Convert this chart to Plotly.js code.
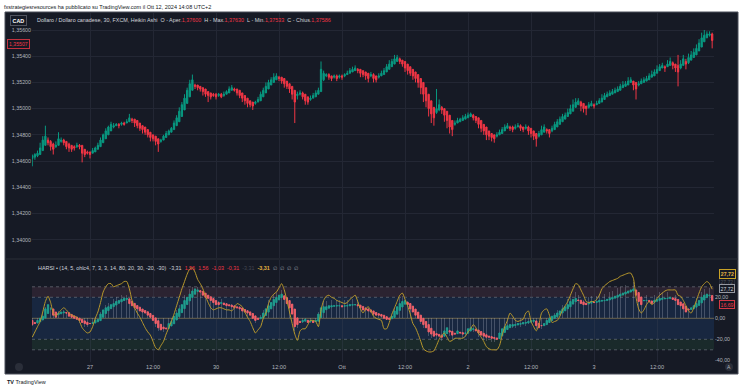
<!DOCTYPE html>
<html><head><meta charset="utf-8">
<script src="https://cdn.plot.ly/plotly-3.0.1.min.js"></script>
<style>html,body{margin:0;padding:0;background:#fff;}#chart{width:743px;height:390px;}</style>
</head><body><div id="chart"></div>
<script>
// ---- price pane (Heikin Ashi, in pips above BASE) ----
const BASE = 1.34;
const haOpen = [62,63,64,65,68,72,76,75,73,71,
 72,75,76,75,73,72,71,71,72,72,
 69,67,67,66,67,69,71,74,77,80,
 83,86,87,88,88,89,89,90,92,92,
 91,89,87,86,84,82,80,79,77,75,
 76,78,80,82,84,87,90,94,99,104,
 109,114,118,118,117,116,115,113,112,111,
 111,110,111,110,111,112,114,115,115,114,
 112,110,108,106,105,104,105,106,109,112,
 115,118,120,122,124,124,123,121,119,117,
 114,110,111,112,111,109,107,108,109,111,
 113,122,125,126,125,124,125,124,125,125,
 126,127,128,129,130,130,129,128,127,125,
 126,125,124,125,126,128,130,132,134,136,
 138,137,136,134,132,130,128,126,123,120,
 116,111,106,101,97,99,101,100,98,95,
 91,88,89,90,91,92,93,94,95,94,
 93,91,88,86,83,81,80,79,80,81,
 83,85,86,86,85,86,87,86,85,86,
 85,83,81,79,80,82,84,84,83,84,
 86,88,90,92,94,96,98,101,103,105,
 104,102,101,102,103,103,104,105,107,109,
 110,111,112,113,114,116,117,118,120,121,
 120,118,119,120,121,122,124,125,127,129,
 131,132,132,133,135,134,133,131,133,136,
 135,137,139,141,144,147,151,154,156,157];
const haClose = [64,65,66,70,76,79,74,71,69,72,
 77,76,74,71,70,69,70,72,71,66,
 65,66,65,68,70,72,76,80,83,86,
 88,87,88,87,89,88,90,93,91,89,
 87,85,84,82,80,78,77,75,73,76,
 79,81,83,85,89,93,98,103,108,114,
 119,122,117,116,115,113,111,110,109,110,
 109,111,109,111,113,115,116,114,112,110,
 108,106,104,103,102,105,107,111,114,117,
 120,122,124,125,123,121,119,117,115,111,
 105,111,112,109,106,105,108,110,112,114,
 130,127,126,124,123,125,123,125,124,126,
 127,129,130,131,129,127,126,125,123,126,
 123,122,125,127,129,132,134,136,138,139,
 136,134,131,129,127,125,123,120,116,111,
 106,100,96,93,100,103,99,95,91,86,
 84,89,91,92,93,94,95,96,93,91,
 88,85,83,80,79,78,77,80,82,84,
 86,87,85,84,86,87,85,84,86,83,
 81,79,77,81,84,86,83,81,85,88,
 90,92,94,95,97,100,103,105,106,102,
 100,100,103,104,102,104,106,108,110,111,
 112,113,114,115,117,118,119,121,122,118,
 115,119,121,122,123,125,126,128,130,132,
 133,131,134,136,133,131,128,134,138,134,
 139,141,143,146,150,154,156,157,157,152];
const upperWick = [1,1,2,4,3,8,2,1,1,3, 5,2,1,0,1,0,1,2,1,0, 0,1,0,2,1,2,2,1,2,1,
 2,2,1,1,1,1,2,3,1,0, 0,0,0,0,0,0,0,0,0,1, 1,2,1,1,2,2,3,2,3,2,
 3,4,1,0,0,0,0,0,0,1, 1,1,1,2,1,2,2,1,0,0, 0,0,0,0,0,1,2,2,2,3,
 2,2,3,2,1,0,0,0,0,0, 0,2,2,1,0,0,2,2,2,2, 6,2,1,1,0,1,1,1,1,1,
 2,2,2,2,1,0,0,0,0,2, 1,0,2,2,2,2,3,2,3,2, 1,0,0,0,0,0,0,0,0,0,
 0,0,0,0,15,4,1,0,0,0, 0,2,2,1,2,2,2,1,1,0, 0,0,0,0,0,0,0,2,2,2,
 2,2,1,1,2,2,1,0,2,1, 0,0,0,2,3,2,1,0,2,2, 2,2,2,2,3,3,4,3,2,1,
 0,0,2,2,1,2,2,3,2,2, 2,2,2,2,2,3,2,3,2,0, 0,2,2,2,2,2,3,2,3,2,
 2,1,3,3,1,0,8,3,3,2, 3,3,3,3,3,4,4,2,2,1];
const lowerWick = [6,2,1,0,0,0,2,3,4,1, 0,1,2,2,3,2,2,1,2,7, 2,1,3,0,0,0,0,0,0,0,
 0,1,0,2,1,1,0,0,2,3, 2,2,3,2,2,3,2,3,6,1, 0,0,0,0,0,0,0,0,0,0,
 0,0,2,2,2,3,2,5,2,1, 2,1,1,1,0,0,0,1,2,2, 3,3,3,2,3,1,0,0,0,0,
 0,0,0,0,2,2,3,2,3,4, 16,3,1,2,3,2,1,0,0,0, 0,1,1,2,2,1,2,1,2,1,
 0,0,0,0,2,3,2,3,3,1, 3,2,1,0,0,0,0,0,0,0, 2,2,3,3,2,3,3,4,5,6,
 5,6,7,6,1,1,3,5,6,5, 5,1,0,0,0,0,0,0,2,2, 3,3,3,4,3,3,3,1,0,0,
 0,0,2,2,1,0,2,2,1,3, 3,3,6,1,0,0,2,3,1,0, 0,0,0,0,0,0,0,0,0,4,
 3,5,1,0,2,0,0,0,0,0, 0,0,0,0,0,0,0,0,0,4, 8,1,0,0,0,0,0,0,0,0,
 0,3,0,0,3,3,11,1,0,4, 1,0,0,0,0,0,0,0,1,6];

// ---- HARSI pane ----
const rsiOpen = [-2,-4,-4.5,-3.3,-1.6,0.2,4.6,8.8,8.9,6,
 3.5,4.3,5.2,5.6,5.3,3.7,2.3,1.2,0.1,-1,
 -2.5,-3.8,-4.9,-5,-4.5,-3.3,-2.2,0.9,4.5,7.3,
 9.2,11.1,12.6,14.3,15.7,16.9,18,18.5,16.3,14.2,
 12.1,10.6,8.8,7.4,6.2,4.6,2.8,0.4,-2.3,-5.7,
 -8.4,-9.2,-9.6,-7.3,-5.2,-1.6,1.7,5.4,9.2,13.1,
 16.6,19.8,22.9,25.5,26.3,25.7,23.9,22,20.5,18.8,
 16.9,15,14,14.5,13.8,12.9,12.5,11.8,10.9,10.5,
 9.8,8.4,7.2,6.1,4.6,2.3,0.2,-0.4,0.3,2.7,
 5.9,9,12,15,17.5,19.8,21.4,19.7,16.9,13.5,
 8.8,0.4,-2.8,-3.4,-2.7,-1.9,-3,-2.5,-3.3,-2.7,
 0.7,5.4,8.2,9.6,10.8,11.4,11.7,11.9,12,11.5,
 11.8,11.9,12.5,12.8,12.9,12.5,11.3,9.7,8.9,8,
 7,5.5,4.3,3.7,2.9,1.5,0.3,-0.4,0.8,3.9,
 7.5,10.8,13.4,15.2,14.1,11.6,8.8,5.9,3,0,
 -3,-6,-9.5,-12.3,-14.6,-15.3,-16.2,-17.1,-14.6,-11.8,
 -12.4,-14.2,-14.6,-13.3,-13.7,-14.4,-14.2,-12.1,-10.6,-10.3,
 -11.2,-12.6,-14.3,-15.7,-16.9,-17.5,-18.3,-18.7,-19.4,-16.7,
 -13.4,-10.7,-8.9,-7.5,-6.8,-6.4,-5.7,-5.4,-4.7,-4.4,
 -3.7,-2.9,-2.5,-4.8,-6.9,-7,-6,-4,-2,0,
 1.5,3.3,5.2,7.1,9.1,11,13.5,15.8,17.4,17.2,
 15.6,14.3,13.7,14.4,15.2,15.1,15.6,16.3,16.7,16.9,
 17.5,18.3,19.2,20.1,21.1,22.1,23.1,24,25,26,
 27,24.5,20.3,16.7,16.9,17,16.5,15.3,16.2,17.1,
 18,18.5,18.8,18.9,19.5,18.8,17.9,15.5,13.8,11.4,
 8.7,8.4,9.2,10.6,12.3,14.7,17.4,19.7,21.4,21.7];
const rsiClose = [-6,-5,-2,0,2,9,13,9,3,1,
 5,6,6,5,2,1,0,-1,-2,-4,
 -5,-6,-5,-4,-2,-1,4,8,10,11,
 13,14,16,17,18,19,19,14,12,10,
 9,7,6,5,3,1,-2,-5,-9,-11,
 -10,-10,-5,-3,2,5,9,13,17,20,
 23,26,28,27,25,22,20,19,17,15,
 13,13,15,13,12,12,11,10,10,9,
 7,6,5,3,0,-2,-1,1,5,9,
 12,15,18,20,22,23,18,14,10,4,
 -8,-6,-4,-2,-1,-4,-2,-4,-2,4,
 10,11,11,12,12,12,12,12,11,12,
 12,13,13,13,12,10,8,8,7,6,
 4,3,3,2,0,-1,-1,2,7,11,
 14,16,17,13,9,6,3,0,-3,-6,
 -9,-13,-15,-17,-16,-17,-18,-12,-9,-13,
 -16,-15,-12,-14,-15,-14,-10,-9,-10,-12,
 -14,-16,-17,-18,-18,-19,-19,-20,-14,-10,
 -8,-7,-6,-6,-6,-5,-5,-4,-4,-3,
 -2,-2,-7,-9,-7,-5,-2,0,2,3,
 5,7,9,11,13,16,18,19,17,14,
 13,13,15,16,15,16,17,17,17,18,
 19,20,21,22,23,24,25,26,27,28,
 22,16,13,17,17,16,14,17,18,19,
 19,19,19,20,18,17,13,12,9,6,
 8,10,12,14,17,20,22,23,22,16.69];
const rsiHist = [-7,-6,-3,2,4,11,15,11,5,3,
 7,8,8,6,3,2,1,-2,-4,-6,
 -8,-8,-7,-5,-3,-2,6,11,13,15,
 17,18,20,21,22,22,22,17,14,12,
 11,9,8,7,5,2,-4,-8,-12,-14,
 -13,-12,-6,-3,4,8,13,17,22,26,
 28,30,31,30,27,24,22,21,19,18,
 16,16,18,16,15,15,14,13,13,12,
 10,9,8,5,1,-4,-2,3,8,13,
 17,20,23,25,27,27,21,17,12,6,
 -12,-9,-6,-4,-3,-7,-4,-6,-3,6,
 15,16,16,17,17,17,17,17,16,17,
 17,18,18,18,16,13,11,11,10,9,
 6,5,5,4,1,-2,-2,4,10,15,
 19,21,22,16,12,8,4,-1,-5,-9,
 -13,-17,-19,-21,-20,-21,-22,-15,-12,-17,
 -20,-19,-15,-18,-19,-18,-13,-12,-13,-15,
 -18,-20,-21,-22,-22,-23,-23,-24,-17,-13,
 -11,-10,-9,-9,-9,-8,-8,-7,-7,-5,
 -4,-4,-10,-12,-10,-7,-3,1,4,5,
 8,10,13,15,18,21,24,25,22,18,
 17,17,20,21,20,21,22,23,23,24,
 25,26,27,29,30,31,32,33,34,35,
 28,20,16,22,22,20,18,22,24,25,
 25,25,25,26,23,22,17,15,12,8,
 10,13,16,19,22,25,28,30,29,22];
const stochLine = [-18,-13,-8,-3,6,16,21,15,5,2,
 5,8,10,8,5,3,2,1,-3,-9,
 -12,-14,-13,-8,0,6,15,25,30,33,
 33,30,31,32,33,35,35,28,17,10,
 5,1,-4,-9,-13,-16,-22,-28,-30,-26,
 -22,-15,-9,-3,4,12,20,28,35,42,
 47,48,44,37,33,28,21,15,10,8,
 9,10,10,9,8,8,7,10,14,13,
 11,6,1,-3,-9,-14,-11,-8,0,5,
 14,20,23,25,29,33,27,17,6,-5,
 -15,-21,-12,-10,-10,-6,-2,-2,-3,-8,
 8,17,21,22,20,19,17,16,15,14,
 15,18,20,22,16,9,5,9,11,7,
 2,0,-1,-2,-10,-10,-4,4,10,16,
 22,24,18,12,4,-5,-9,-15,-22,-29,
 -31,-32,-32,-31,-26,-20,-16,-14,-18,-22,
 -21,-19,-19,-19,-19,-17,-13,-10,-6,-9,
 -14,-18,-22,-27,-29,-30,-30,-30,-26,-16,
 -8,-2,5,2,-2,-3,-2,-1,5,7,
 -3,-8,-12,-6,5,8,9,3,-4,-3,
 -2,2,8,12,16,22,28,33,32,27,
 22,16,15,16,16,18,22,28,31,33,
 35,36,37,38,40,41,42,43,43,38,
 20,9,5,8,13,16,13,15,19,22,
 24,26,27,27,27,27,22,21,17,12,
 7,5,10,17,24,30,33,35,33,27.72];

// ---- axis labels ----
const timeTickIdx = [22,46,70,94,118,142,166,190,214,238];
const timeTickText = ['27','12:00','30','12:00','Ott','12:00','2','12:00','3','12:00'];
const priceTicks = [1.340,1.342,1.344,1.346,1.348,1.350,1.352,1.354,1.356];
const priceTickText = ['1,34000','1,34200','1,34400','1,34600','1,34800','1,35000','1,35200','1,35400','1,35600'];
const rsiTicks = [-40,-20,0,20];
const rsiTickText = ['-40,00','-20,00','0,00','20,00'];

// ---- build ----
const W = 743, H = 390;
const PX = x => x / W, PY = y => 1 - y / H;
const idx = haOpen.map((_, i) => i);
const toPrice = v => BASE + v / 10000;
const mOpen = haOpen.map(toPrice), mClose = haClose.map(toPrice);
const mHigh = haOpen.map((o, i) => toPrice(Math.max(o, haClose[i]) + upperWick[i]));
const mLow = haOpen.map((o, i) => toPrice(Math.min(o, haClose[i]) - lowerWick[i]));
const rHigh = rsiOpen.map((o, i) => Math.max(o, rsiClose[i]));
const rLow = rsiOpen.map((o, i) => Math.min(o, rsiClose[i]));

const UP = '#089981', DN = '#f23645';
const traces = [
  {type:'candlestick', x:idx, open:mOpen, high:mHigh, low:mLow, close:mClose, xaxis:'x', yaxis:'y',
   increasing:{line:{color:UP,width:1}, fillcolor:UP}, decreasing:{line:{color:DN,width:1}, fillcolor:DN},
   whiskerwidth:0, hoverinfo:'skip'},
  {type:'bar', x:idx, y:rsiHist, xaxis:'x2', yaxis:'y2', width:0.22,
   marker:{color:'rgba(175,180,195,0.3)', line:{width:0}}, hoverinfo:'skip'},
  {type:'candlestick', x:idx, open:rsiOpen, high:rHigh, low:rLow, close:rsiClose, xaxis:'x2', yaxis:'y2',
   increasing:{line:{color:'#1f9e8e',width:1}, fillcolor:'#1f9e8e'}, decreasing:{line:{color:'#f0606a',width:1}, fillcolor:'#f0606a'},
   whiskerwidth:0, hoverinfo:'skip'},
  {type:'scatter', mode:'lines', x:idx, y:stochLine, xaxis:'x2', yaxis:'y2',
   line:{color:'#b8982c', width:1, shape:'spline', smoothing:0.6}, hoverinfo:'skip'}
];

const FONT = 'Liberation Sans, Arial, sans-serif';
const xdom = [32 / W, 714 / W];
const xr = [-0.1, 259.7];
const GRID = '#232734';

const shapes = [
  {type:'rect', xref:'paper', yref:'paper', x0:PX(5), x1:PX(738), y0:PY(374), y1:PY(12),
   fillcolor:'#161a25', line:{color:'#4a4e5a', width:1}, layer:'below'},
  {type:'rect', xref:'x2 domain', yref:'y2', x0:0, x1:1, y0:20, y1:30, fillcolor:'#2b2331', line:{width:0}, layer:'below'},
  {type:'rect', xref:'x2 domain', yref:'y2', x0:0, x1:1, y0:-20, y1:20, fillcolor:'#182740', line:{width:0}, layer:'below'},
  {type:'rect', xref:'x2 domain', yref:'y2', x0:0, x1:1, y0:-30, y1:-20, fillcolor:'#1a2a2b', line:{width:0}, layer:'below'},
  {type:'line', xref:'paper', yref:'paper', x0:PX(5), x1:PX(738), y0:PY(259), y1:PY(259), line:{color:'#2a2e39', width:1}}
];
[30, 20, -20, -30].forEach(v => shapes.push({type:'line', xref:'x2 domain', yref:'y2', x0:0, x1:1, y0:v, y1:v,
  line:{color:'rgba(130,134,146,0.55)', width:1, dash:'3px,3px'}, layer:'below'}));
shapes.push({type:'line', xref:'x2 domain', yref:'y2', x0:0, x1:1, y0:0, y1:0,
  line:{color:'rgba(190,160,90,0.5)', width:1}, layer:'below'});
shapes.push({type:'circle', xref:'paper', yref:'paper', x0:PX(15), x1:PX(23), y0:PY(371), y1:PY(363),
  fillcolor:'#2a2e39', line:{width:0}});
shapes.push({type:'circle', xref:'paper', yref:'paper', x0:PX(725), x1:PX(733), y0:PY(371), y1:PY(363),
  fillcolor:'#2a2e39', line:{width:0}});

const red = s => '<span style="color:#f23645">' + s + '</span>';
const ann = (x, y, text, o = {}) => Object.assign({xref:'paper', yref:'paper', x:PX(x), y:PY(y), text,
  showarrow:false, xanchor:'left', yanchor:'middle', font:{family:FONT, size:5.4, color:'#d1d4dc'}}, o);
const S = '\u00a0\u00a0';
const annotations = [
  ann(2, 7, 'fxstrategiesresources ha pubblicato su TradingView.com il Ott 12, 2024 14:08 UTC+2', {font:{family:FONT, size:5.5, color:'#131722'}}),
  ann(18, 20, '<b>CAD</b>', {xanchor:'center', bgcolor:'#161a25', bordercolor:'#50535e', borderwidth:1, borderpad:1.5, font:{family:FONT, size:5.4, color:'#ffffff'}}),
  ann(35, 20, 'Dollaro / Dollaro canadese, 30, FXCM, Heikin Ashi' + S + 'O - Aper.' + red('1,37600') + S + 'H - Max.' + red('1,37630') + S + 'L - Min.' + red('1,37533') + S + 'C - Chius.' + red('1,37586')),
  ann(18, 43.5, '1,35507', {xanchor:'center', bgcolor:'#161a25', bordercolor:'#c2323f', borderwidth:1, borderpad:1, font:{family:FONT, size:5.2, color:'#f23645'}}),
  ann(36, 268.3, 'HARSI \u2022 (14, 5, ohlc4, 7, 3, 3, 14, 80, 20, 30, -20, -30)' + S + '-3,31' + S + red('1,56') + S + red('1,56') + S + red('-1,03') + S + red('-0,31') + S +
     '<span style="color:#434651">-3,31</span>' + S + '<span style="color:#e3b341"><b>-3,31</b></span>' + S + '<span style="color:#9598a1">\u2205\u00a0\u00a0\u2205\u00a0\u00a0\u2205\u00a0\u00a0\u2205</span>'),
  ann(727, 281.2, '27,72', {xanchor:'center', bgcolor:'#161a25', bordercolor:'#2a2e39', borderwidth:1, borderpad:0.5, font:{family:FONT, size:5, color:'#50535e'}}),
  ann(727, 273.5, '<b>27,72</b>', {xanchor:'center', bgcolor:'#161a25', bordercolor:'#c9a227', borderwidth:1, borderpad:0.8, font:{family:FONT, size:5.2, color:'#e3b341'}}),
  ann(727, 288.8, '27,72', {xanchor:'center', bgcolor:'#161a25', bordercolor:'#9598a1', borderwidth:1, borderpad:0.5, font:{family:FONT, size:5.2, color:'#d1d4dc'}}),
  ann(727, 304.2, '16,69', {xanchor:'center', bgcolor:'#161a25', bordercolor:'#d23a46', borderwidth:1, borderpad:0.5, font:{family:FONT, size:5.2, color:'#f23645'}}),
  ann(729, 367, 'A', {xanchor:'center', font:{family:FONT, size:5, color:'#b2b5be'}}),
  ann(5, 382, '<b>TV</b> TradingView', {font:{family:FONT, size:5.5, color:'#131722'}})
];

const layout = {
  width:W, height:H, margin:{l:0, r:0, t:0, b:0},
  paper_bgcolor:'#ffffff', plot_bgcolor:'rgba(0,0,0,0)', showlegend:false, bargap:0,
  font:{family:FONT, size:5.3, color:'#b2b5be'},
  xaxis:{domain:xdom, range:xr, anchor:'y', tickvals:timeTickIdx, showticklabels:false, ticks:'',
    showgrid:true, gridcolor:GRID, gridwidth:1, zeroline:false, showline:false, rangeslider:{visible:false}, fixedrange:true},
  xaxis2:{domain:xdom, range:xr, anchor:'y2', tickvals:timeTickIdx, ticktext:timeTickText, ticks:'',
    tickfont:{family:FONT, size:5.6, color:'#b2b5be'}, showgrid:true, gridcolor:'rgba(60,66,82,0.35)', gridwidth:1,
    zeroline:false, showline:false, rangeslider:{visible:false}, fixedrange:true},
  yaxis:{domain:[PY(258), PY(13)], range:[BASE + (-13.97) / 10000, BASE + 172.98 / 10000], anchor:'x', side:'left',
    tickvals:priceTicks, ticktext:priceTickText, ticks:'', tickfont:{family:FONT, size:5.3, color:'#b2b5be'},
    showgrid:true, gridcolor:GRID, gridwidth:1, zeroline:false, showline:false, fixedrange:true},
  yaxis2:{domain:[PY(362), PY(260)], range:[-41.6, 55.5], anchor:'x2', side:'right',
    tickvals:rsiTicks, ticktext:rsiTickText, ticks:'', tickfont:{family:FONT, size:5.3, color:'#b2b5be'},
    showgrid:false, zeroline:false, showline:false, fixedrange:true},
  shapes, annotations
};

Plotly.newPlot('chart', traces, layout, {staticPlot:true, displayModeBar:false});
</script></body></html>
